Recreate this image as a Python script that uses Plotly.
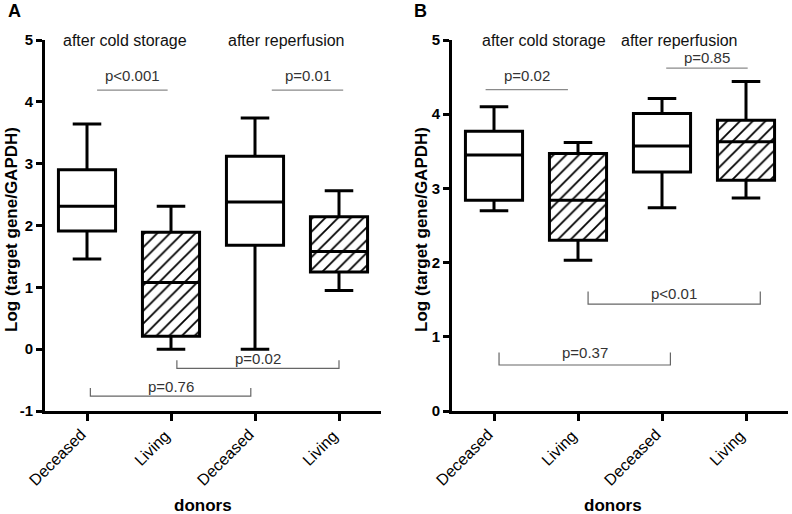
import plotly.graph_objects as go

categories = ["Deceased", "Living", "Deceased", "Living"]
positions = [0, 1, 2, 3]
hatched = [False, True, False, True]

# Panel A: box statistics (lower whisker, Q1, median, Q3, upper whisker)
a_low = [1.46, 0.00, 0.00, 0.95]
a_q1 = [1.91, 0.21, 1.68, 1.25]
a_med = [2.31, 1.08, 2.38, 1.58]
a_q3 = [2.90, 1.89, 3.12, 2.14]
a_high = [3.64, 2.31, 3.74, 2.56]

# Panel B
b_low = [2.70, 2.03, 2.74, 2.87]
b_q1 = [2.84, 2.30, 3.22, 3.11]
b_med = [3.45, 2.84, 3.57, 3.63]
b_q3 = [3.77, 3.47, 4.01, 3.92]
b_high = [4.10, 3.62, 4.21, 4.44]

a_yticks = [-1, 0, 1, 2, 3, 4, 5]
b_yticks = [0, 1, 2, 3, 4, 5]

# p-value lines: (label, x0, x1, y_line, y_text)
a_top = [("p<0.001", 0.12, 0.96, 4.19, 4.42), ("p=0.01", 2.20, 3.05, 4.19, 4.42)]
a_brackets = [("p=0.02", 1.07, 3.00, -0.31, -0.18, -0.15), ("p=0.76", 0.04, 1.95, -0.76, -0.63, -0.61)]
b_top = [("p=0.02", -0.10, 0.88, 4.33, 4.52), ("p=0.85", 2.05, 3.02, 4.62, 4.76)]
b_brackets = [("p<0.01", 1.12, 3.17, 1.44, 1.61, 1.59), ("p=0.37", 0.06, 2.10, 0.62, 0.79, 0.79)]

FONT = "Liberation Sans, Arial, sans-serif"
BOXW = 0.68

W = 792
H = 514
PLOT_TOP = 40
PLOT_BOT = 411
PH = PLOT_BOT - PLOT_TOP

# rotated category label placement (pixel offsets of label centre from its tick)
LABEL_OFFSET = {"Deceased": (-30, 457), "Living": (-19.5, 448)}


def px(x):
    return x / W


def py(y):
    return (PLOT_BOT - y) / PH


fig = go.Figure()


def add_panel(xa, ya, low, q1, med, q3, high):
    hx = [p for p, h in zip(positions, hatched) if h]
    hb = [q for q, h in zip(q1, hatched) if h]
    hy = [b - a for a, b, h in zip(q1, q3, hatched) if h]
    fig.add_trace(go.Bar(
        x=hx, y=hy, base=hb, width=BOXW, xaxis=xa, yaxis=ya,
        marker=dict(color="white", line=dict(width=0),
                    pattern=dict(shape="/", fgcolor="black", bgcolor="white",
                                 fgopacity=1, size=9, solidity=0.2)),
        showlegend=False, hoverinfo="skip"))
    for i, p in enumerate(positions):
        fig.add_trace(go.Box(
            x=[p], q1=[q1[i]], median=[med[i]], q3=[q3[i]],
            lowerfence=[low[i]], upperfence=[high[i]],
            width=BOXW, whiskerwidth=0.5, boxpoints=False,
            line=dict(color="black", width=3),
            fillcolor="rgba(0,0,0,0)" if hatched[i] else "white",
            xaxis=xa, yaxis=ya, showlegend=False, hoverinfo="skip"))


add_panel("x", "y", a_low, a_q1, a_med, a_q3, a_high)
add_panel("x2", "y2", b_low, b_q1, b_med, b_q3, b_high)

shapes = []
annotations = []


def add_lines(xr, yr, top, brackets, headers):
    for lab, x0, x1, yl, yt in top:
        shapes.append(dict(type="line", xref=xr, yref=yr, x0=x0, x1=x1, y0=yl, y1=yl,
                           line=dict(color="#8a8a8a", width=1.2)))
        annotations.append(dict(text=lab, xref=xr, yref=yr, x=(x0 + x1) / 2, y=yt,
                                showarrow=False, font=dict(family=FONT, size=15, color="#333")))
    for lab, x0, x1, yl, ytop, yt in brackets:
        shapes.append(dict(type="path", xref=xr, yref=yr,
                           path=f"M {x0},{ytop} L {x0},{yl} L {x1},{yl} L {x1},{ytop}",
                           line=dict(color="#666", width=1.2)))
        annotations.append(dict(text=lab, xref=xr, yref=yr, x=(x0 + x1) / 2, y=yt,
                                showarrow=False, font=dict(family=FONT, size=15, color="#333")))
    for lab, x in headers:
        annotations.append(dict(text=lab, xref=xr, yref=yr, x=x, y=5.0,
                                showarrow=False, font=dict(family=FONT, size=16, color="#111")))
    # category labels, rotated 45 degrees below each tick
    for cat, pos in zip(categories, positions):
        dx, cy = LABEL_OFFSET[cat]
        annotations.append(dict(text=cat, xref=xr, yref="paper", x=pos, y=py(cy),
                                xshift=dx, xanchor="center", yanchor="middle",
                                textangle=-45, showarrow=False,
                                font=dict(family=FONT, size=16, color="black")))


add_lines("x", "y", a_top, a_brackets, [("after cold storage", 0.45), ("after reperfusion", 2.38)])
add_lines("x2", "y2", b_top, b_brackets, [("after cold storage", 0.59), ("after reperfusion", 2.21)])

for letter, lx in [("A", 14), ("B", 420)]:
    annotations.append(dict(text=f"<b>{letter}</b>", xref="paper", yref="paper",
                            x=px(lx), y=py(11), xanchor="center", yanchor="middle",
                            showarrow=False, font=dict(family=FONT, size=18, color="black")))
for tx in [11, 421]:
    annotations.append(dict(text="<b>Log (target gene/GAPDH)</b>", xref="paper", yref="paper",
                            x=px(tx), y=py(230), xanchor="center", yanchor="middle",
                            textangle=-90, showarrow=False,
                            font=dict(family=FONT, size=17, color="black")))
for dx in [203, 613]:
    annotations.append(dict(text="<b>donors</b>", xref="paper", yref="paper",
                            x=px(dx), y=py(505), xanchor="center", yanchor="middle",
                            showarrow=False, font=dict(family=FONT, size=17, color="black")))

xcommon = dict(range=[-0.5, 3.5], tickmode="array", tickvals=positions,
               showticklabels=False, automargin=False,
               showline=True, linecolor="black", linewidth=3,
               ticks="outside", ticklen=7, tickwidth=3, tickcolor="black",
               showgrid=False, zeroline=False)
ycommon = dict(showline=True, linecolor="black", linewidth=3, automargin=False,
               ticks="outside", ticklen=6, tickwidth=3, tickcolor="black",
               showgrid=False, zeroline=False,
               tickfont=dict(family=FONT, size=15, color="black"))

fig.update_layout(
    width=W, height=H,
    margin=dict(l=0, r=0, t=PLOT_TOP, b=H - PLOT_BOT),
    paper_bgcolor="white", plot_bgcolor="white",
    showlegend=False, barmode="overlay", boxmode="overlay",
    xaxis=dict(domain=[px(45), px(381)], anchor="y", **xcommon),
    xaxis2=dict(domain=[px(452), px(788)], anchor="y2", **xcommon),
    yaxis=dict(range=[-1, 5], anchor="x", tickvals=a_yticks,
               ticktext=[f"<b>{v}</b>" for v in a_yticks], **ycommon),
    yaxis2=dict(range=[0, 5], anchor="x2", tickvals=b_yticks,
                ticktext=[f"<b>{v}</b>" for v in b_yticks], **ycommon),
    shapes=shapes, annotations=annotations,
)

fig.write_html(
    "out.html",
    config={"displayModeBar": False},
    post_script="document.body.style.margin='0';document.body.style.overflow='hidden';",
)
